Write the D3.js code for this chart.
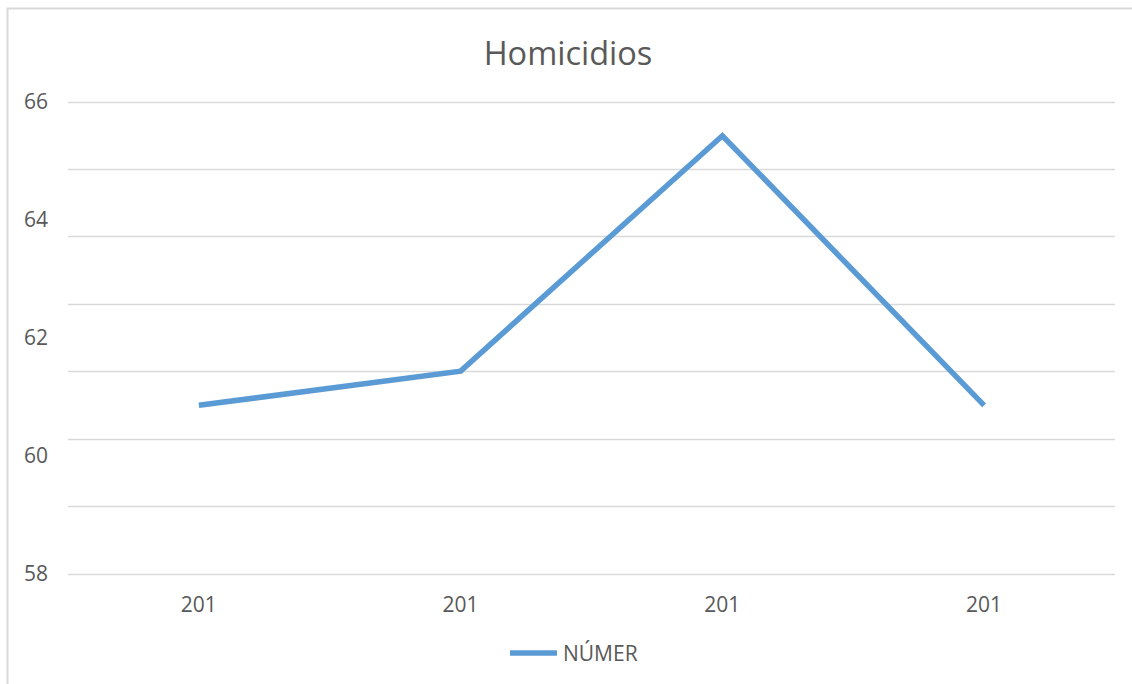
<!DOCTYPE html>
<html><head><meta charset="utf-8">
<script src="https://cdn.jsdelivr.net/npm/d3@7"></script>
<style>body{margin:0;background:#fff}svg{display:block}</style>
</head><body>
<svg id="c" width="1132" height="684"></svg>
<script>
const title = "Homicidios";
const categories = ["201", "201", "201", "201"];
const seriesName = "NÚMER";
const values = [60.85, 61.43, 65.42, 60.85];
const yTickLabels = [58, 60, 62, 64, 66];
const gridCount = 8;

const svg = d3.select("#c");
const font = "'Open Sans', sans-serif";
const textColor = "#595959";

// chart border
svg.append("path").attr("d", "M7.5,684 V8.5 H1132").attr("fill", "none")
  .attr("stroke", "#d9d9d9").attr("stroke-width", 2);

const x = d3.scaleBand().domain(d3.range(categories.length)).range([68, 1115]);
const y = d3.scaleLinear().domain([58, 66]).range([573.5, 101.5]);
const g = d3.scaleLinear().domain([0, gridCount - 1]).range([573.5, 101.5]);

svg.append("g").selectAll("line").data(d3.range(gridCount)).join("line")
  .attr("x1", 68).attr("x2", 1115)
  .attr("y1", d => Math.round(g(d)) + 0.5).attr("y2", d => Math.round(g(d)) + 0.5)
  .attr("stroke", "#d9d9d9").attr("stroke-width", 1.5);

svg.append("g").selectAll("text").data(yTickLabels).join("text")
  .attr("x", 48).attr("y", d => y(d)).attr("dy", "0.35em")
  .attr("text-anchor", "end").attr("font-family", font).attr("font-size", 21)
  .attr("fill", textColor).text(d => d);

svg.append("g").selectAll("text").data(categories).join("text")
  .attr("x", (d, i) => x(i) + x.bandwidth() / 2).attr("y", 605).attr("dy", "0.35em")
  .attr("text-anchor", "middle").attr("font-family", font).attr("font-size", 21)
  .attr("fill", textColor).text(d => d);

const line = d3.line().x((d, i) => x(i) + x.bandwidth() / 2).y(d => y(d));
svg.append("path").datum(values).attr("d", line).attr("fill", "none")
  .attr("stroke", "#5b9bd5").attr("stroke-width", 5.5).attr("stroke-linejoin", "miter");

svg.append("text").attr("x", 568).attr("y", 54).attr("dy", "0.35em")
  .attr("text-anchor", "middle").attr("font-family", font).attr("font-size", 32.5)
  .attr("fill", textColor).text(title);

svg.append("line").attr("x1", 510).attr("x2", 557).attr("y1", 653).attr("y2", 653)
  .attr("stroke", "#5b9bd5").attr("stroke-width", 5.5);
svg.append("text").attr("x", 563).attr("y", 654).attr("dy", "0.35em")
  .attr("font-family", font).attr("font-size", 21).attr("fill", textColor).text(seriesName);
</script>
</body></html>
